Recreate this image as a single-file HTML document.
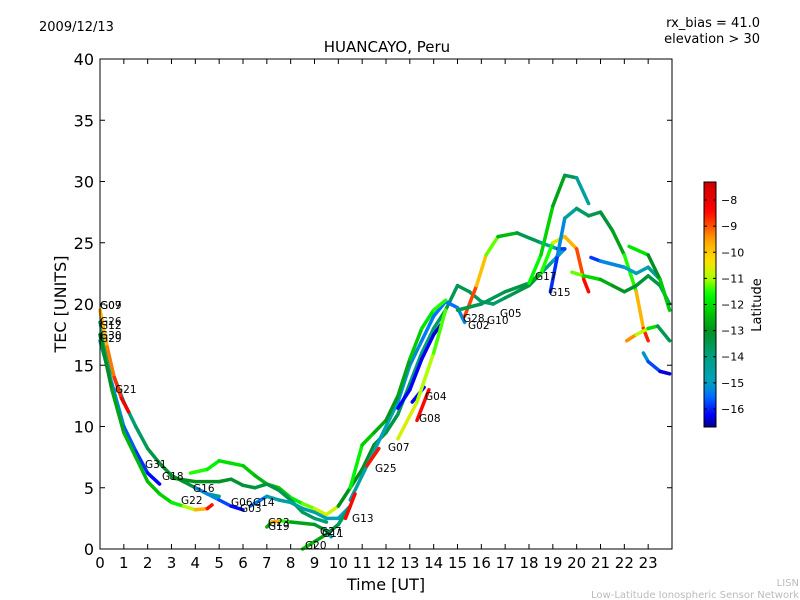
<!DOCTYPE html>
<html><head><meta charset="utf-8"><style>
body{margin:0;background:#fff;}
svg{display:block;font-family:"DejaVu Sans","Liberation Sans",sans-serif;}
</style></head><body>
<svg id="chart" width="800" height="600" viewBox="0 0 800 600">
<text x="39" y="31" font-size="13">2009/12/13</text>
<text x="760" y="27" font-size="13" text-anchor="end">rx_bias = 41.0</text>
<text x="760" y="43" font-size="13" text-anchor="end">elevation &gt; 30</text>
<text x="387" y="52" font-size="15" text-anchor="middle">HUANCAYO, Peru</text>
<g id="tracks"></g>
<g id="labels" font-size="10.5"></g>
<rect x="100" y="59" width="572" height="490" fill="none" stroke="#000" stroke-width="1"/>
<g id="axes"></g>
<text x="386" y="590" font-size="16" text-anchor="middle">Time [UT]</text>
<text x="66" y="304" font-size="16" text-anchor="middle" transform="rotate(-90 66 304)">TEC [UNITS]</text>
<defs><linearGradient id="jet" x1="0" y1="1" x2="0" y2="0"></linearGradient></defs>
<rect id="cbar" x="704" y="182" width="12" height="245" stroke="#000" stroke-width="1"/>
<g id="cbticks" font-size="11"></g>
<text x="761" y="305" font-size="13" text-anchor="middle" transform="rotate(-90 761 305)">Latitude</text>
<text x="799" y="586" font-size="10" fill="#bbb" text-anchor="end">LISN</text>
<text x="799" y="598" font-size="10" fill="#bbb" text-anchor="end">Low-Latitude Ionospheric Sensor Network</text>
</svg>
<script>
const xTicks=[0,1,2,3,4,5,6,7,8,9,10,11,12,13,14,15,16,17,18,19,20,21,22,23];
const yTicks=[0,5,10,15,20,25,30,35,40];
const cbTicks=[-8,-9,-10,-11,-12,-13,-14,-15,-16];
const latMin=-16.69, latMax=-7.31;
// tracks: [hour, TEC, latitude]
const trackTimes=[
[0,0.5,1,1.5,2,2.5],
[0,0.5,1,1.5,2,2.5,3,3.5,4,4.5,5],
[0,0.3,0.6,0.9,1.2],
[0,0.5,1,1.5,2,2.5,3,3.5,4,4.5,4.7],
[3.8,4.5,5,5.5,6,6.5,7,7.5,8,8.5,9,9.5,10],
[3,4,5,5.5,6,6.5,7,7.5,8,8.5,9,9.5],
[4,5,5.5,6],
[6.3,7,7.5,8,8.5,9,9.5,10,10.5],
[7,7.2,7.6,8,9,9.5,9.7],
[8.5,9,9.5,10,10.5],
[10,10.5,11,11.5,12,12.5,13,13.5,14,14.5,15,15.5,16,16.5,17,17.5,18,18.5,19,19.5],
[10.5,11,11.5,12,12.5,13,13.5,14,14.5,15,15.3],
[15.3,15.8,16.2,16.7,17.5,18.5,19.2,19.5],
[12.5,13,13.5,14,14.3],
[15,16,17,18,18.5,19,19.5,20,20.3,20.5],
[18,18.5,19,19.5,20,20.5],
[18.9,19.2,19.5,20,20.5,21,21.5,22,22.5,22.8,23],
[19.8,20.3,21,21.5,22,22.5,23,23.5,23.9],
[20.6,21,22,22.5,23,23.5,23.9],
[22.1,22.5,23,23.4,23.9],
[22.8,23,23.5,23.9],
[22.2,23,23.5,23.9],
[10.5,11,11.5,12,12.5,13,13.5,14,14.5],
[13.3,13.8],
[13.1,13.6],
[10.3,10.7],
[11.2,11.7],
[12.5,13.3,14,14.5]
];
const trackTec=[
[17,13.5,10,8,6.2,5.3],
[18.5,14.5,12,10,8.2,7,6,5.5,5,4.5,4.3],
[19.5,16.5,14,12.3,11.2],
[17.5,13,9.5,7.5,5.5,4.5,3.8,3.5,3.2,3.3,3.6],
[6.2,6.5,7.2,7,6.8,6,5.3,5,4.2,3.7,3.3,2.8,3.5],
[5.8,5.5,5.5,5.7,5.2,5,5.3,4.8,4,3,2.5,2.2],
[5,4,3.5,3.2],
[3.5,4.3,4,3.8,3.3,3,2.5,2.5,3.5],
[1.8,2.2,2.3,2.2,2,1.5,1],
[0,0.6,1.2,2,3.5],
[3.5,5,6.5,8.5,9.5,11,13.5,16,18,19.5,21.5,21,20.2,20,20.5,21,21.5,22.5,23.5,24.5],
[4,6,8,10,12,15,17,19,20.2,19.7,18.5],
[19,21.5,24,25.5,25.8,25,24.5,24.5],
[11.5,13,15.5,17.5,18.3],
[19.5,20,21,21.7,22.5,25,25.5,24.5,22,21],
[21.7,24,28,30.5,30.3,28.2],
[21,24,27,27.8,27.2,27.5,26,24,21,18,17],
[22.6,22.3,22,21.5,21,21.5,22.3,21.5,20],
[23.8,23.5,23,22.5,23,22,19.5],
[17,17.5,18,18.2,17],
[16,15.3,14.5,14.3],
[24.7,24,22,19.5],
[5,8.5,9.5,10.5,12.5,15.5,18,19.5,20.3],
[10.5,13],
[12,13.2],
[2.5,4.5],
[6.8,8.2],
[9,12,16,19.5]
];
const trackLat=[
[-14.5,-15,-15.5,-15.8,-16,-16.3],
[-14,-14,-14,-13.8,-13.5,-13.3,-13,-13,-13.5,-14,-14.5],
[-10,-9.5,-9,-8.5,-8],
[-13,-13,-12.5,-12.5,-12.5,-12.3,-12,-11.5,-10.5,-9,-8],
[-11.5,-11.5,-12,-12,-12,-12.5,-12.5,-12.5,-12,-11.5,-11,-10.5,-11],
[-13,-13,-13,-13.2,-13.2,-13.3,-13.3,-13.5,-13.5,-13.5,-13.8,-14],
[-15,-15.5,-16,-16.3],
[-16,-14.8,-14.5,-14.5,-14.5,-14.5,-14.8,-15,-15],
[-16.2,-9,-10.5,-12.5,-13,-13.5,-16],
[-12,-12.5,-13,-13.5,-14],
[-13,-13,-13,-13,-13.2,-13.5,-13.8,-14,-14,-13.5,-13.5,-13.5,-13.8,-14,-13.5,-13.5,-13.3,-13.5,-14.5,-15.5],
[-14.5,-14.5,-14.8,-15,-15,-15.2,-15.3,-15.5,-15.5,-15.5,-15],
[-8.5,-9.3,-10.5,-12,-13,-14,-15.5,-16.2],
[-16.2,-16.2,-16.2,-16.3,-16.4],
[-13.5,-13.5,-13.5,-13.3,-12,-11,-10.2,-9.3,-8.6,-8.3],
[-11.5,-11.8,-12.5,-13,-14,-15],
[-16.3,-15.5,-15,-14,-13.5,-13.5,-13,-12.5,-10.5,-9,-8.3],
[-10.8,-11.7,-12.5,-12.8,-13,-13.2,-13.3,-13.5,-13.8],
[-16.2,-15.5,-15,-15,-14.5,-14.3,-14.8],
[-8.5,-10.3,-11.5,-12.5,-14.5],
[-15,-15.3,-16.2,-16.5],
[-11.3,-12.5,-13.5,-11],
[-11.5,-12,-12.5,-12.8,-13,-12.5,-12,-11.8,-11.2],
[-8.3,-8.6],
[-16.3,-16.2],
[-8.3,-8.6],
[-8.3,-8.8],
[-10.5,-10.8,-11.2,-11.5]
];
const satLabels=["G07","G09","G26","G12","G30","G29","G21","G31","G18","G16","G22","G06","G14","G03","G23","G19","G20","G27","G11","G13","G25","G07","G04","G08","G28","G02","G10","G05","G17","G15"];
const labelPos=[[100,309],[100,309],[100,325],[100,329],[100,339],[100,342],[115,393],[145,468],[162,480],[193,492],[181,504],[231,506],[253,506],[240,512],[268,526],[268,530],[305,549],[320,535],[322,537],[352,522],[375,472],[388,451],[425,400],[419,422],[463,322],[468,329],[487,324],[500,317],[535,280],[549,296]];

const NS="http://www.w3.org/2000/svg";
const X=h=>100+h*572/24, Y=v=>549-v*490/40;
const cmap=[[-16.69,[0,0,139]],[-16.2,[0,0,255]],[-15.5,[0,112,255]],[-15,[0,160,192]],[-14,[0,160,128]],[-13,[0,144,32]],[-12.2,[0,208,0]],[-11.6,[0,255,0]],[-11,[176,255,0]],[-10.3,[255,224,0]],[-9.5,[255,160,0]],[-9,[255,80,0]],[-8.4,[255,0,0]],[-7.31,[204,0,0]]];
function jet(lat){
  lat=Math.max(latMin,Math.min(latMax,lat));
  for(let i=0;i<cmap.length-1;i++){
    const a=cmap[i],b=cmap[i+1];
    if(lat<=b[0]){const t=(lat-a[0])/(b[0]-a[0]);
      return 'rgb('+a[1].map((c,j)=>Math.round(c+(b[1][j]-c)*t)).join(',')+')';}
  }
  return 'rgb(204,0,0)';
}
document.getElementById('cbar').setAttribute('fill','url(#jet)');
const grad=document.getElementById('jet');
for(let i=0;i<=40;i++){const s=document.createElementNS(NS,'stop');s.setAttribute('offset',i/40);s.setAttribute('stop-color',jet(latMin+(latMax-latMin)*i/40));grad.appendChild(s);}

const tg=document.getElementById('tracks');
trackTimes.forEach((ts,k)=>{
  for(let i=0;i<ts.length-1;i++){
    const l=document.createElementNS(NS,'line');
    
    
    l.setAttribute('x1',X(ts[i]));l.setAttribute('y1',Y(trackTec[k][i]));
    l.setAttribute('x2',X(ts[i+1]));l.setAttribute('y2',Y(trackTec[k][i+1]));
    l.setAttribute('stroke',jet((trackLat[k][i]+trackLat[k][i+1])/2));
    l.setAttribute('stroke-width','3.5');l.setAttribute('stroke-linecap','round');
    tg.appendChild(l);
  }
});
const lg=document.getElementById('labels');
satLabels.forEach((s,i)=>{
  const t=document.createElementNS(NS,'text');
  
  
  t.setAttribute('x',labelPos[i][0]);t.setAttribute('y',labelPos[i][1]);t.textContent=s;lg.appendChild(t);
});
const ag=document.getElementById('axes');
xTicks.forEach(h=>{
  const l=document.createElementNS(NS,'path');
  
  
  l.setAttribute('d',`M${X(h)},549v-5M${X(h)},59v5`);l.setAttribute('stroke','#000');ag.appendChild(l);
  const t=document.createElementNS(NS,'text');
  
  
  t.setAttribute('x',X(h));t.setAttribute('y',568);t.setAttribute('font-size','15');t.setAttribute('text-anchor','middle');t.textContent=h;ag.appendChild(t);
});
yTicks.forEach(v=>{
  const l=document.createElementNS(NS,'path');
  
  
  l.setAttribute('d',`M100,${Y(v)}h5M672,${Y(v)}h-5`);l.setAttribute('stroke','#000');ag.appendChild(l);
  const t=document.createElementNS(NS,'text');
  
  
  t.setAttribute('x',94);t.setAttribute('y',Y(v)+6);t.setAttribute('font-size','16');t.setAttribute('text-anchor','end');t.textContent=v;ag.appendChild(t);
});
const cg=document.getElementById('cbticks');
cbTicks.forEach(v=>{
  const y=182+245*(latMax-v)/(latMax-latMin);
  const l=document.createElementNS(NS,'path');
  
  
  l.setAttribute('d',`M704,${y}h3M716,${y}h-3`);l.setAttribute('stroke','#000');cg.appendChild(l);
  const t=document.createElementNS(NS,'text');
  
  
  t.setAttribute('x',721);t.setAttribute('y',y+4);t.textContent='\u2212'+Math.abs(v);cg.appendChild(t);
});
</script>
</body></html>
